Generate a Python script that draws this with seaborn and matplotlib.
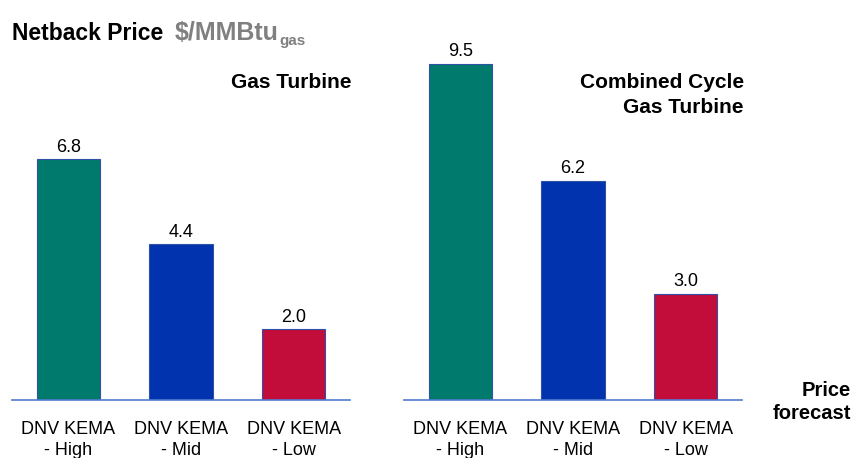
import pandas as pd
import matplotlib.pyplot as plt
import seaborn as sns

scenarios = ["DNV KEMA\n- High", "DNV KEMA\n- Mid", "DNV KEMA\n- Low"]
gas_turbine = [6.8, 4.4, 2.0]
combined_cycle = [9.5, 6.2, 3.0]
bar_colors = ["#007A6C", "#0033AD", "#C20C3A"]

sns.set_style("white")
plt.rcParams['font.family'] = ['Liberation Sans', 'DejaVu Sans']
plt.rcParams['text.color'] = 'black'
plt.rcParams['xtick.color'] = 'black'

fig = plt.figure(figsize=(8.53, 4.58), dpi=100)
W, H = 853, 458


def px_axes(x0, x1, base_y, top_y):
    return fig.add_axes([x0 / W, (H - base_y) / H, (x1 - x0) / W, (base_y - top_y) / H])


def draw_panel(ax, values, title):
    df = pd.DataFrame({"scenario": scenarios, "value": values})
    sns.barplot(data=df, x="scenario", y="value", hue="scenario", palette=bar_colors,
                saturation=1, width=0.56, edgecolor="#2F52A8", linewidth=0.8,
                legend=False, ax=ax)
    for i, v in enumerate(values):
        ax.text(i, v + 0.1, f"{v:.1f}", ha="center", va="bottom", fontsize=13)
    ax.set_xlim(-0.5, 2.5)
    ax.set_ylim(0, 10)
    ax.set_yticks([])
    ax.set_xlabel("")
    ax.set_ylabel("")
    for s in ["top", "right", "left"]:
        ax.spines[s].set_visible(False)
    ax.spines["bottom"].set_color("#4F7BD0")
    ax.spines["bottom"].set_linewidth(1.2)
    ax.tick_params(axis="x", length=0, pad=15, labelsize=13)
    for lbl in ax.get_xticklabels():
        lbl.set_linespacing(1.35)
    ax.patch.set_alpha(0)
    ax.text(1.005, 0.924, title, transform=ax.transAxes, ha="right", va="top",
            fontsize=15, fontweight="bold", linespacing=1.4)


ax1 = px_axes(12, 350, 400, 46)
draw_panel(ax1, gas_turbine, "Gas Turbine")

ax2 = px_axes(404, 742, 400, 46)
draw_panel(ax2, combined_cycle, "Combined Cycle\nGas Turbine")

# title pieces placed one after another
renderer = fig.canvas.get_renderer()
base = 1 - 40 / H
t1 = fig.text(12 / W, base, "Netback Price", fontsize=16.5, fontweight="bold", va="baseline")
x = t1.get_window_extent(renderer).x1 / W
t2 = fig.text(x + 11 / W, base, "$/MMBtu", fontsize=18, fontweight="bold",
              color="#808080", va="baseline")
x = t2.get_window_extent(renderer).x1 / W
fig.text(x + 1 / W, base - 5 / H, "gas", fontsize=11, fontweight="bold",
         color="#808080", va="baseline")

fig.text(851 / W, 1 - 402 / H, "Price\nforecast", fontsize=14.5, fontweight="bold",
         ha="right", va="center", linespacing=1.3)

fig.savefig("out.png", dpi=100)
